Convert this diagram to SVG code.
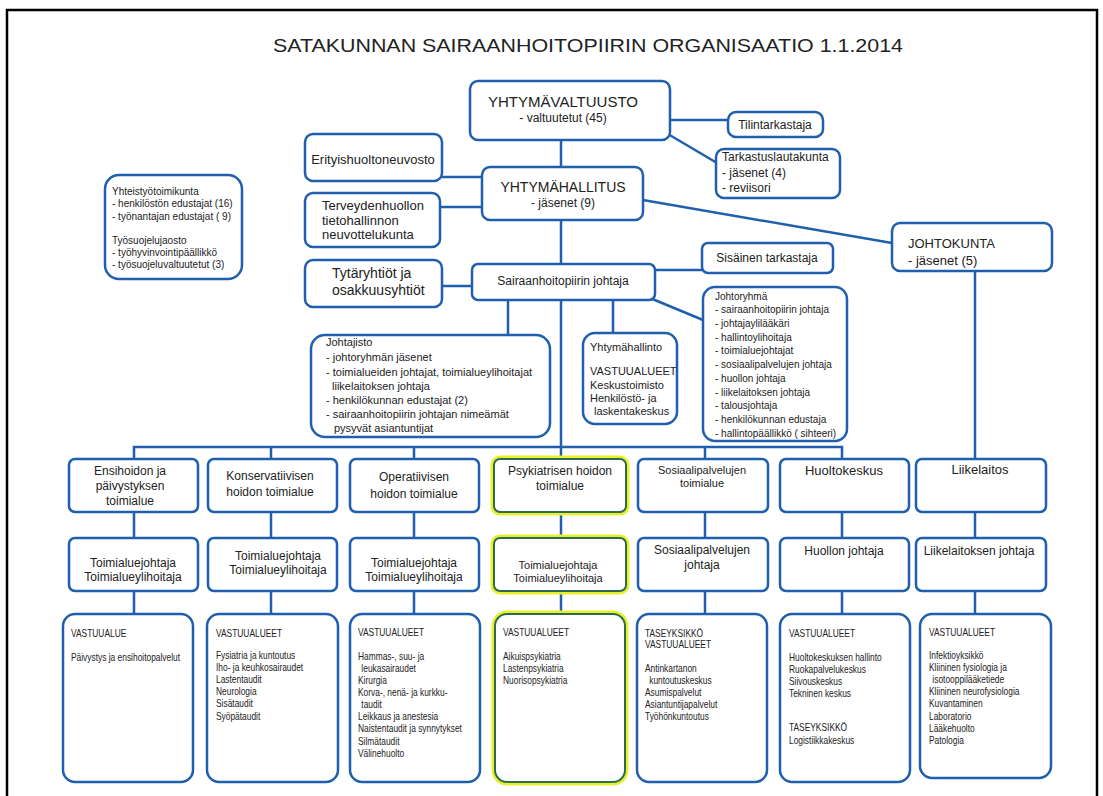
<svg xmlns="http://www.w3.org/2000/svg" width="1103" height="796" viewBox="0 0 1103 796">
<style>
.box{fill:#fff;stroke:#1f5fae;stroke-width:2.5}
.ln{stroke:#1f5fae;stroke-width:2.5;fill:none}
.hl{fill:none;stroke:#e8f02a;stroke-width:7}
.psy{fill:#fff;stroke:#2d6b50;stroke-width:2}
text{font-family:"Liberation Sans",Arial,Helvetica,sans-serif;fill:#222}
.c{text-anchor:middle}
.f15{font-size:15px}
.f14{font-size:14px}
.f13{font-size:13px}
.f12{font-size:12px}
.f11{font-size:11px}
.f10{font-size:10px}
.n{font-size:10px}
</style>
<rect width="1103" height="796" fill="#fff"/>
<path d="M7,796 V10 H1097 V796" fill="none" stroke="#000" stroke-width="2.5"/>
<text x="588" y="52" class="c" font-size="19" fill="#3a3a3a" textLength="630" lengthAdjust="spacingAndGlyphs">SATAKUNNAN SAIRAANHOITOPIIRIN ORGANISAATIO 1.1.2014</text>

<g id="connectors">
<line class="ln" x1="671" y1="120" x2="728" y2="120" stroke-width="4"/>
<line class="ln" x1="668" y1="134" x2="717" y2="163"/>
<line class="ln" x1="561" y1="141" x2="561" y2="167"/>
<line class="ln" x1="442" y1="177" x2="482" y2="177"/>
<line class="ln" x1="440" y1="207" x2="482" y2="207"/>
<line class="ln" x1="643" y1="200" x2="892" y2="243"/>
<line class="ln" x1="561" y1="220" x2="561" y2="264"/>
<line class="ln" x1="442" y1="286" x2="472" y2="286"/>
<line class="ln" x1="655" y1="270" x2="702" y2="270"/>
<line class="ln" x1="650" y1="298" x2="703" y2="320"/>
<line class="ln" x1="508" y1="300" x2="508" y2="335"/>
<line class="ln" x1="613" y1="300" x2="613" y2="333"/>
<line class="ln" x1="561" y1="300" x2="561" y2="459"/>
<line class="ln" x1="975" y1="271" x2="975" y2="459"/>
<polyline class="ln" points="134,459 134,447 842,447 842,459"/>
<line class="ln" x1="271" y1="447" x2="271" y2="459"/>
<line class="ln" x1="414" y1="447" x2="414" y2="459"/>
<line class="ln" x1="705" y1="447" x2="705" y2="459"/>
<path class="ln" d="M134,512V538M134,591V614M271,512V538M271,591V614M414,512V538M414,591V614M561,512V538M561,591V614M705,512V538M705,591V614M842,512V538M842,591V614M975,512V538M975,591V614"/>
</g>

<g id="yhtymavaltuusto">
<rect class="box" x="470" y="81" width="200" height="59" rx="8"/>
<text x="563" y="107" class="c f15">YHTYMÄVALTUUSTO</text>
<text x="563" y="122" class="c f12">- valtuutetut (45)</text>
</g>
<g id="tilintarkastaja">
<rect class="box" x="728" y="112" width="95" height="25" rx="8"/>
<text x="775" y="129" class="c f12">Tilintarkastaja</text>
</g>
<g id="tarkastuslautakunta">
<rect class="box" x="716" y="149" width="124" height="49" rx="8"/>
<text x="722" y="161" class="f12">Tarkastuslautakunta</text>
<text x="722" y="177" class="f12">- jäsenet (4)</text>
<text x="722" y="192" class="f12">- reviisori</text>
</g>
<g id="yhteistyotoimikunta">
<rect class="box" x="105" y="175" width="137" height="104" rx="14"/>
<text x="112" y="195" class="f10">Yhteistyötoimikunta</text>
<text x="112" y="207" class="f10">- henkilöstön edustajat (16)</text>
<text x="112" y="220" class="f10">- työnantajan edustajat ( 9)</text>
<text x="112" y="244" class="f10">Työsuojelujaosto</text>
<text x="112" y="256" class="f10">- työhyvinvointipäällikkö</text>
<text x="112" y="268" class="f10">- työsuojeluvaltuutetut (3)</text>
</g>
<g id="erityishuoltoneuvosto">
<rect class="box" x="305" y="134" width="137" height="47" rx="8"/>
<text x="373" y="164" class="c f13">Erityishuoltoneuvosto</text>
</g>
<g id="yhtymahallitus">
<rect class="box" x="482" y="167" width="161" height="53" rx="8"/>
<text x="563" y="192" class="c f14">YHTYMÄHALLITUS</text>
<text x="563" y="207" class="c f12">- jäsenet (9)</text>
</g>
<g id="terveydenhuollon">
<rect class="box" x="305" y="193" width="135" height="54" rx="8"/>
<text x="322" y="210" class="f13">Terveydenhuollon</text>
<text x="322" y="225" class="f13">tietohallinnon</text>
<text x="322" y="239" class="f13">neuvottelukunta</text>
</g>
<g id="johtokunta">
<rect class="box" x="892" y="223" width="160" height="48" rx="8"/>
<text x="908" y="248" class="f13">JOHTOKUNTA</text>
<text x="908" y="265" class="f13">- jäsenet (5)</text>
</g>
<g id="tytaryhtiot">
<rect class="box" x="305" y="260" width="137" height="47" rx="8"/>
<text x="332" y="278" class="f14">Tytäryhtiöt ja</text>
<text x="332" y="295" class="f14">osakkuusyhtiöt</text>
</g>
<g id="sairaanhoitopiirin-johtaja">
<rect class="box" x="472" y="264" width="183" height="36" rx="6"/>
<text x="563" y="285" class="c f12">Sairaanhoitopiirin johtaja</text>
</g>
<g id="sisainen-tarkastaja">
<rect class="box" x="702" y="243" width="131" height="30" rx="6"/>
<text x="767" y="262" class="c f12">Sisäinen tarkastaja</text>
</g>
<g id="johtajisto">
<rect class="box" x="311" y="335" width="239" height="102" rx="14"/>
<text x="326" y="346" class="f11">Johtajisto</text>
<text x="326" y="361" class="f11">- johtoryhmän jäsenet</text>
<text x="326" y="376" class="f11">- toimialueiden johtajat, toimialueylihoitajat</text>
<text x="332" y="390" class="f11">liikelaitoksen johtaja</text>
<text x="326" y="404" class="f11">- henkilökunnan edustajat (2)</text>
<text x="326" y="418" class="f11">- sairaanhoitopiirin johtajan nimeämät</text>
<text x="334" y="432" class="f11">pysyvät asiantuntijat</text>
</g>
<g id="yhtymahallinto">
<rect class="box" x="583" y="333" width="94" height="91" rx="12"/>
<text x="590" y="351" class="f11">Yhtymähallinto</text>
<text x="590" y="375" class="f11">VASTUUALUEET</text>
<text x="590" y="389" class="f11">Keskustoimisto</text>
<text x="590" y="402" class="f11">Henkilöstö- ja</text>
<text x="594" y="415" class="f11">laskentakeskus</text>
</g>
<g id="johtoryhma">
<rect class="box" x="703" y="287" width="144" height="154" rx="12"/>
<text x="715" y="300" class="f10">Johtoryhmä</text>
<text x="715" y="313" class="f10">- sairaanhoitopiirin johtaja</text>
<text x="715" y="327" class="f10">- johtajaylilääkäri</text>
<text x="715" y="341" class="f10">- hallintoylihoitaja</text>
<text x="715" y="354" class="f10">- toimialuejohtajat</text>
<text x="715" y="368" class="f10">- sosiaalipalvelujen johtaja</text>
<text x="715" y="382" class="f10">- huollon johtaja</text>
<text x="715" y="396" class="f10">- liikelaitoksen johtaja</text>
<text x="715" y="409" class="f10">- talousjohtaja</text>
<text x="715" y="423" class="f10">- henkilökunnan edustaja</text>
<text x="715" y="437" class="f10">- hallintopäällikkö ( sihteeri)</text>
</g>

<g id="ensihoidon">
<rect class="box" x="69" y="459" width="129" height="53" rx="6"/>
<text x="130" y="475" class="c f12">Ensihoidon ja</text>
<text x="130" y="490" class="c f12">päivystyksen</text>
<text x="130" y="505" class="c f12">toimialue</text>
<rect class="box" x="69" y="538" width="129" height="53" rx="6"/>
<text x="133" y="567" class="c f12">Toimialuejohtaja</text>
<text x="133" y="581" class="c f12">Toimialueylihoitaja</text>
<rect class="box" x="63" y="614" width="130" height="168" rx="12"/>
<g transform="translate(71,0) scale(0.84,1)">
<text x="0" y="637" class="n">VASTUUALUE</text>
<text x="0" y="661" class="n">Päivystys ja ensihoitopalvelut</text>
</g>
</g>
<g id="konservatiivisen">
<rect class="box" x="208" y="459" width="129" height="53" rx="6"/>
<text x="270" y="480" class="c f12">Konservatiivisen</text>
<text x="270" y="496" class="c f12">hoidon toimialue</text>
<rect class="box" x="208" y="538" width="129" height="53" rx="6"/>
<text x="278" y="560" class="c f12">Toimialuejohtaja</text>
<text x="278" y="574" class="c f12">Toimialueylihoitaja</text>
<rect class="box" x="207" y="614" width="131" height="168" rx="12"/>
<g transform="translate(216,0) scale(0.84,1)">
<text x="0" y="637" class="n">VASTUUALUEET</text>
<text x="0" y="659" class="n">Fysiatria ja kuntoutus</text>
<text x="0" y="671" class="n">Iho- ja keuhkosairaudet</text>
<text x="0" y="683" class="n">Lastentaudit</text>
<text x="0" y="695" class="n">Neurologia</text>
<text x="0" y="707" class="n">Sisätaudit</text>
<text x="0" y="720" class="n">Syöpätaudit</text>
</g>
</g>
<g id="operatiivisen">
<rect class="box" x="350" y="459" width="129" height="53" rx="6"/>
<text x="414" y="481" class="c f12">Operatiivisen</text>
<text x="414" y="498" class="c f12">hoidon toimialue</text>
<rect class="box" x="350" y="538" width="129" height="53" rx="6"/>
<text x="414" y="567" class="c f12">Toimialuejohtaja</text>
<text x="414" y="581" class="c f12">Toimialueylihoitaja</text>
<rect class="box" x="350" y="614" width="130" height="168" rx="12"/>
<g transform="translate(358,0) scale(0.84,1)">
<text x="0" y="636" class="n">VASTUUALUEET</text>
<text x="0" y="660" class="n">Hammas-, suu- ja</text>
<text x="4" y="672" class="n">leukasairaudet</text>
<text x="0" y="684" class="n">Kirurgia</text>
<text x="0" y="696" class="n">Korva-, nenä- ja kurkku-</text>
<text x="4" y="708" class="n">taudit</text>
<text x="0" y="720" class="n">Leikkaus ja anestesia</text>
<text x="0" y="732" class="n">Naistentaudit ja synnytykset</text>
<text x="0" y="745" class="n">Silmätaudit</text>
<text x="0" y="757" class="n">Välinehuolto</text>
</g>
</g>
<g id="psykiatrisen">
<rect class="hl" x="494" y="459" width="132" height="53" rx="6"/>
<rect class="psy" x="494" y="459" width="132" height="53" rx="6"/>
<text x="560" y="475" class="c f12">Psykiatrisen hoidon</text>
<text x="560" y="490" class="c f12">toimialue</text>
<rect class="hl" x="494" y="538" width="132" height="53" rx="6"/>
<rect class="psy" x="494" y="538" width="132" height="53" rx="6"/>
<text x="558" y="569" class="c f11">Toimialuejohtaja</text>
<text x="558" y="582" class="c f11">Toimialueylihoitaja</text>
<rect class="hl" x="495" y="614" width="130" height="168" rx="12"/>
<rect class="psy" x="495" y="614" width="130" height="168" rx="12"/>
<g transform="translate(503,0) scale(0.84,1)">
<text x="0" y="636" class="n">VASTUUALUEET</text>
<text x="0" y="660" class="n">Aikuispsykiatria</text>
<text x="0" y="672" class="n">Lastenpsykiatria</text>
<text x="0" y="684" class="n">Nuorisopsykiatria</text>
</g>
</g>
<g id="sosiaalipalvelujen">
<rect class="box" x="638" y="459" width="130" height="53" rx="6"/>
<text x="702" y="474" class="c f11">Sosiaalipalvelujen</text>
<text x="702" y="487" class="c f11">toimialue</text>
<rect class="box" x="638" y="538" width="130" height="53" rx="6"/>
<text x="702" y="554" class="c f12">Sosiaalipalvelujen</text>
<text x="702" y="569" class="c f12">johtaja</text>
<rect class="box" x="637" y="614" width="130" height="168" rx="12"/>
<g transform="translate(645,0) scale(0.84,1)">
<text x="0" y="637" class="n">TASEYKSIKKÖ</text>
<text x="0" y="648" class="n">VASTUUALUEET</text>
<text x="0" y="672" class="n">Antinkartanon</text>
<text x="5" y="684" class="n">kuntoutuskeskus</text>
<text x="0" y="696" class="n">Asumispalvelut</text>
<text x="0" y="708" class="n">Asiantuntijapalvelut</text>
<text x="0" y="720" class="n">Työhönkuntoutus</text>
</g>
</g>
<g id="huoltokeskus">
<rect class="box" x="780" y="459" width="129" height="53" rx="6"/>
<text x="844" y="475" class="c f13">Huoltokeskus</text>
<rect class="box" x="780" y="538" width="129" height="53" rx="6"/>
<text x="844" y="555" class="c f12">Huollon johtaja</text>
<rect class="box" x="780" y="614" width="130" height="168" rx="12"/>
<g transform="translate(789,0) scale(0.84,1)">
<text x="0" y="637" class="n">VASTUUALUEET</text>
<text x="0" y="661" class="n">Huoltokeskuksen hallinto</text>
<text x="0" y="673" class="n">Ruokapalvelukeskus</text>
<text x="0" y="685" class="n">Siivouskeskus</text>
<text x="0" y="697" class="n">Tekninen keskus</text>
<text x="0" y="731" class="n">TASEYKSIKKÖ</text>
<text x="0" y="744" class="n">Logistiikkakeskus</text>
</g>
</g>
<g id="liikelaitos">
<rect class="box" x="916" y="459" width="130" height="53" rx="6"/>
<text x="980" y="474" class="c f13">Liikelaitos</text>
<rect class="box" x="916" y="538" width="130" height="53" rx="6"/>
<text x="979" y="555" class="c f12">Liikelaitoksen johtaja</text>
<rect class="box" x="920" y="614" width="131" height="164" rx="12"/>
<g transform="translate(929,0) scale(0.84,1)">
<text x="0" y="636" class="n">VASTUUALUEET</text>
<text x="0" y="659" class="n">Infektioyksikkö</text>
<text x="0" y="671" class="n">Kliininen fysiologia ja</text>
<text x="4" y="683" class="n">isotooppilääketiede</text>
<text x="0" y="695" class="n">Kliininen neurofysiologia</text>
<text x="0" y="707" class="n">Kuvantaminen</text>
<text x="0" y="720" class="n">Laboratorio</text>
<text x="0" y="732" class="n">Lääkehuolto</text>
<text x="0" y="744" class="n">Patologia</text>
</g>
</g>
</svg>
